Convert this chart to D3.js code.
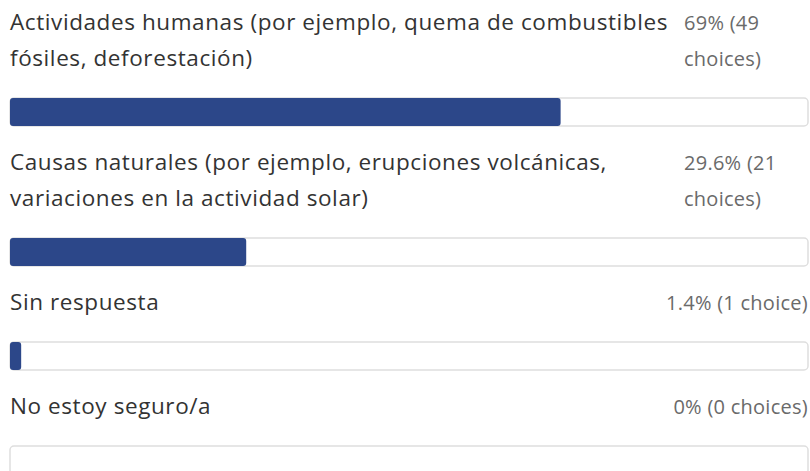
<!DOCTYPE html>
<html>
<head>
<meta charset="utf-8">
<script src="https://cdn.jsdelivr.net/npm/d3@7"></script>
<style>
  body { margin: 0; background: #fff; }
  svg { display: block; }
  .label { font-family: "Open Sans", Roboto, sans-serif; font-size: 22.5px; fill: #333; }
  .value { font-family: "Open Sans", Roboto, sans-serif; font-size: 20px; fill: #6a6a6a; }
</style>
</head>
<body>
<div id="chart"></div>
<script>
// options as shown, with the line breaks of the picture
var labels = [
  ["Actividades humanas (por ejemplo, quema de combustibles", "fósiles, deforestación)"],
  ["Causas naturales (por ejemplo, erupciones volcánicas,", "variaciones en la actividad solar)"],
  ["Sin respuesta"],
  ["No estoy seguro/a"]
];
var percents = [69, 29.6, 1.4, 0];
var counts = [49, 21, 1, 0];

var width = 810, height = 471;
var lineH = 36, barH = 28, rowGap = 40;

var x = d3.scaleLinear()
    .domain([0, 100])
    .range([10, 808]);

var svg = d3.select("#chart").append("svg")
    .attr("width", width)
    .attr("height", height);

// fit letter spacing so the longest line is as wide as in the picture (~658px)
var probe = svg.append("text").attr("class", "label").text(labels[0][0]);
var pw = probe.node().getComputedTextLength();
var ls = (658 - pw) / labels[0][0].length;
probe.remove();
var probe2 = svg.append("text").attr("class", "value").text("1.4% (1 choice)");
var ls2 = (142 - probe2.node().getComputedTextLength()) / 15;
probe2.remove();

// row tops: each row is text lines + bar
var tops = [];
var y0 = -6;
labels.forEach(function(l, i) {
  tops.push(y0);
  y0 += l.length * lineH + barH + rowGap;
});

var rows = svg.selectAll("g.row")
    .data(labels)
  .enter().append("g")
    .attr("class", "row")
    .attr("transform", function(d, i) { return "translate(0," + tops[i] + ")"; });

rows.each(function(d, i) {
  var g = d3.select(this);
  var barY = d.length * lineH + 32;

  g.selectAll("text.label")
      .data(d)
    .enter().append("text")
      .attr("class", "label")
      .attr("x", 10)
      .attr("y", function(s, j) { return 36 + j * lineH; })
      .style("letter-spacing", ls + "px")
      .text(function(s) { return s; });

  var txt = percents[i] + "% (" + counts[i] + (counts[i] == 1 ? " choice)" : " choices)");
  var v = g.append("text")
      .attr("class", "value")
      .attr("y", 36)
      .style("letter-spacing", ls2 + "px");

  if (d.length > 1) {
    // long label: value wraps into a narrow column
    var words = txt.split(" "), line = [], ln = 0;
    var colX = 684, colW = 124;
    var ts = v.append("tspan").attr("x", colX).attr("y", 36);
    words.forEach(function(w) {
      line.push(w);
      ts.text(line.join(" "));
      if (ts.node().getComputedTextLength() > colW && line.length > 1) {
        line.pop();
        ts.text(line.join(" "));
        line = [w];
        ln++;
        ts = v.append("tspan").attr("x", colX).attr("y", 36 + ln * lineH).text(w);
      }
    });
  } else {
    v.attr("x", 808)
      .attr("text-anchor", "end")
      .text(txt);
  }

  g.append("rect")
      .attr("x", x(0))
      .attr("y", barY)
      .attr("width", x(100) - x(0))
      .attr("height", barH)
      .attr("rx", 4)
      .attr("fill", "#fff")
      .attr("stroke", "#dedede")
      .attr("stroke-width", 1.5);

  if (percents[i] > 0) {
    g.append("rect")
        .attr("x", x(0))
        .attr("y", barY)
        .attr("width", Math.max(x(percents[i]) - x(0), 6))
        .attr("height", barH)
        .attr("rx", 3)
        .attr("fill", "#2c4789");
  }
});
</script>
</body>
</html>
